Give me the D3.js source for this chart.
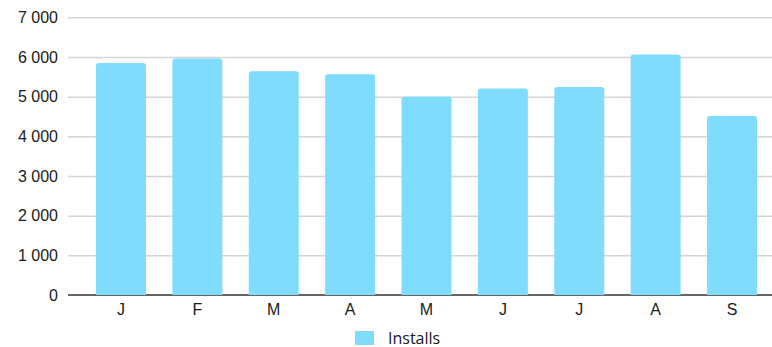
<!DOCTYPE html>
<html>
<head>
<meta charset="utf-8">
<script src="https://cdn.jsdelivr.net/npm/d3@7"></script>
<style>
  html, body { margin: 0; padding: 0; background: #fff; }
  svg { display: block; font-family: "Open Sans", sans-serif; }
</style>
</head>
<body>
<svg id="chart" width="772" height="347"></svg>
<script>
// Monthly installs
const months = ["J", "F", "M", "A", "M", "J", "J", "A", "S"];
const installs = [5850, 5960, 5640, 5565, 4995, 5205, 5240, 6065, 4515];
const yTicks = [0, 1000, 2000, 3000, 4000, 5000, 6000, 7000];
const seriesName = "Installs";

const W = 772, H = 347;
const gridLeft = 68, gridRight = 772;
const barColor = "#80dcfd";
const textColor = "#1a1a1a";

const svg = d3.select("#chart");

const keys = months.map((m, i) => i);
const x = d3.scaleBand()
  .domain(keys)
  .range([82.8, 770.2])
  .paddingInner(0.3455)
  .paddingOuter(0.1727);

const y = d3.scaleLinear().domain([0, 7000]).range([295, 17.3]);

const fmt = v => d3.format(",")(v).replace(/,/g, " ");

// Horizontal gridlines and value labels
const yAxis = d3.axisLeft(y)
  .tickValues(yTicks)
  .tickSize(-(gridRight - gridLeft))
  .tickPadding(10)
  .tickFormat(fmt);

const gy = svg.append("g")
  .attr("transform", `translate(${gridLeft},0)`)
  .call(yAxis);
gy.select(".domain").remove();
gy.selectAll(".tick line")
  .attr("stroke", "#d4d4d4")
  .attr("stroke-width", 1.5)
  .filter(d => d === 0).remove();
gy.selectAll(".tick text")
  .attr("fill", textColor)
  .attr("font-size", 16)
  .attr("x", -10);

// Baseline
svg.append("line")
  .attr("x1", gridLeft).attr("x2", gridRight)
  .attr("y1", y(0)).attr("y2", y(0))
  .attr("stroke", "#666")
  .attr("stroke-width", 2);

// Bars with rounded top corners
const r = 3;
svg.append("g").selectAll("path")
  .data(installs)
  .join("path")
  .attr("fill", barColor)
  .attr("d", (v, i) => {
    const x0 = x(i), w = x.bandwidth(), y0 = y(v), y1 = y(0);
    return `M${x0},${y1}V${y0 + r}Q${x0},${y0} ${x0 + r},${y0}H${x0 + w - r}Q${x0 + w},${y0} ${x0 + w},${y0 + r}V${y1}Z`;
  });

// Month labels
const xAxis = d3.axisBottom(x).tickSize(0).tickPadding(9).tickFormat(i => months[i]);
const gx = svg.append("g")
  .attr("transform", `translate(0,${y(0)})`)
  .call(xAxis);
gx.select(".domain").remove();
gx.selectAll(".tick text")
  .attr("fill", textColor)
  .attr("font-size", 16);

// Legend
const lg = svg.append("g").attr("transform", "translate(355,331)");
lg.append("rect")
  .attr("width", 19).attr("height", 14)
  .attr("fill", barColor);
lg.append("text")
  .attr("x", 33).attr("y", 12.5)
  .attr("fill", textColor)
  .attr("font-size", 16)
  .text(seriesName);
</script>
</body>
</html>
